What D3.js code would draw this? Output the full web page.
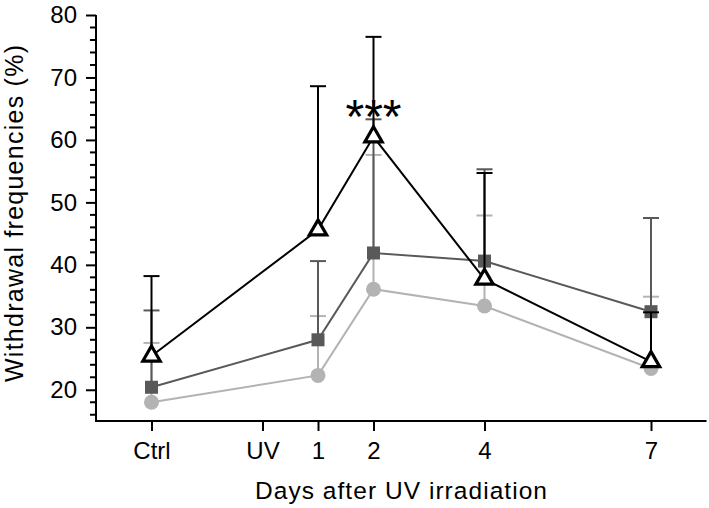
<!DOCTYPE html>
<html>
<head>
<meta charset="utf-8">
<script src="https://cdn.jsdelivr.net/npm/d3@7"></script>
<style>
  html, body { margin: 0; padding: 0; background: #fff; }
  svg { display: block; font-family: Arial, "Liberation Sans", Helvetica, sans-serif; }
</style>
</head>
<body>
<svg id="chart" width="709" height="508"></svg>
<script>
// ---- data ----
const days = [-2, 1, 2, 4, 7];                 // Ctrl plotted at -2
const tickDays = [-2, 0, 1, 2, 4, 7];
const tickLabels = ["Ctrl", "UV", "1", "2", "4", "7"];
const yTicks = [20, 30, 40, 50, 60, 70, 80];

const lightMean  = [18.0, 22.3, 36.1, 33.4, 23.4];
const lightUpper = [27.5, 31.8, 57.6, 47.9, 34.9];
const darkMean   = [20.4, 28.0, 41.9, 40.6, 32.5];
const darkUpper  = [32.7, 40.6, 63.3, 55.3, 47.5];
const blackMean  = [25.4, 45.6, 60.5, 37.7, 24.5];
const blackUpper = [38.2, 68.6, 76.5, 54.7, 32.4];

const sigDay = 2, sigLabel = "***";
const xTitle = "Days after UV irradiation";
const yTitle = "Withdrawal frequencies (%)";

// ---- layout ----
const svg = d3.select("#chart");
const x = d3.scaleLinear().domain([-3, 8]).range([96, 706.5]);
const y = d3.scaleLinear().domain([15, 80]).range([421, 15]);

// y axis
const yAxis = d3.axisLeft(y).tickValues(yTicks).tickSize(10).tickPadding(9).tickFormat(d3.format("d"));
const gy = svg.append("g").attr("transform", "translate(96,0)").call(yAxis);
gy.select(".domain").remove();
gy.selectAll(".tick line").attr("stroke", "#000").attr("stroke-width", 2);
gy.selectAll(".tick text").attr("font-size", 24).attr("fill", "#000").attr("font-family", "Arial, 'Liberation Sans', sans-serif");
// minor ticks
const minor = d3.range(16, 80, 2).filter(v => v % 10 !== 0);
svg.append("g").selectAll("line").data(minor).join("line")
  .attr("x1", 90).attr("x2", 96).attr("y1", d => y(d)).attr("y2", d => y(d))
  .attr("stroke", "#000").attr("stroke-width", 2);
svg.append("line").attr("x1", 96).attr("x2", 96).attr("y1", y(80)).attr("y2", y(15) + 1)
  .attr("stroke", "#000").attr("stroke-width", 2);

// x axis
const xAxis = d3.axisBottom(x).tickValues(tickDays).tickSize(10).tickPadding(11)
  .tickFormat((d, i) => tickLabels[i]);
const gx = svg.append("g").attr("transform", "translate(0,421)").call(xAxis);
gx.select(".domain").remove();
gx.selectAll(".tick line").attr("stroke", "#000").attr("stroke-width", 2);
gx.selectAll(".tick text").attr("font-size", 24).attr("fill", "#000").attr("font-family", "Arial, 'Liberation Sans', sans-serif");
svg.append("line").attr("x1", 95).attr("x2", 706.5).attr("y1", 421).attr("y2", 421)
  .attr("stroke", "#000").attr("stroke-width", 2);

// titles
svg.append("text").attr("x", 401).attr("y", 499).attr("text-anchor", "middle")
  .attr("font-size", 24.5).attr("textLength", 292).attr("lengthAdjust", "spacing")
  .text(xTitle);
svg.append("text").attr("transform", "translate(23,213.5) rotate(-90)").attr("text-anchor", "middle")
  .attr("font-size", 25).attr("textLength", 337).attr("lengthAdjust", "spacing")
  .text(yTitle);

// series
const series = [
  { mean: lightMean, upper: lightUpper, color: "#b3b3b3", marker: "circle" },
  { mean: darkMean,  upper: darkUpper,  color: "#595959", marker: "square" },
  { mean: blackMean, upper: blackUpper, color: "#000000", marker: "triangle" }
];
const line = d3.line().x(d => x(d.day)).y(d => y(d.v));

series.forEach(s => {
  const pts = days.map((d, i) => ({ day: d, v: s.mean[i], up: s.upper[i] }));
  const g = svg.append("g");
  // error bars
  g.selectAll("line.err").data(pts).join("line").attr("class", "err")
    .attr("x1", d => x(d.day)).attr("x2", d => x(d.day))
    .attr("y1", d => y(d.v)).attr("y2", d => y(d.up))
    .attr("stroke", s.color).attr("stroke-width", 2);
  g.selectAll("line.cap").data(pts).join("line").attr("class", "cap")
    .attr("x1", d => x(d.day) - 8).attr("x2", d => x(d.day) + 8)
    .attr("y1", d => y(d.up)).attr("y2", d => y(d.up))
    .attr("stroke", s.color).attr("stroke-width", 2);
  // line
  g.append("path").datum(pts).attr("d", line)
    .attr("fill", "none").attr("stroke", s.color).attr("stroke-width", 2);
  // markers
  if (s.marker === "circle") {
    g.selectAll("circle").data(pts).join("circle")
      .attr("cx", d => x(d.day)).attr("cy", d => y(d.v)).attr("r", 7.5)
      .attr("fill", s.color);
  } else if (s.marker === "square") {
    g.selectAll("rect").data(pts).join("rect")
      .attr("x", d => x(d.day) - 6.5).attr("y", d => y(d.v) - 6.5)
      .attr("width", 13).attr("height", 13).attr("fill", s.color);
  } else {
    const tri = d3.symbol().type(d3.symbolTriangle).size(130);
    g.selectAll("path.mk").data(pts).join("path").attr("class", "mk")
      .attr("transform", d => `translate(${x(d.day)},${y(d.v)})`)
      .attr("d", tri).attr("fill", "#fff").attr("stroke", "#000")
      .attr("stroke-width", 3.2).attr("stroke-linejoin", "miter");
  }
});

// significance
const sigIdx = days.indexOf(sigDay);
svg.append("text").attr("x", x(sigDay)).attr("y", y(blackMean[sigIdx]) - 4)
  .attr("text-anchor", "middle").attr("font-size", 48).attr("fill", "#000")
  .text(sigLabel);
</script>
</body>
</html>
